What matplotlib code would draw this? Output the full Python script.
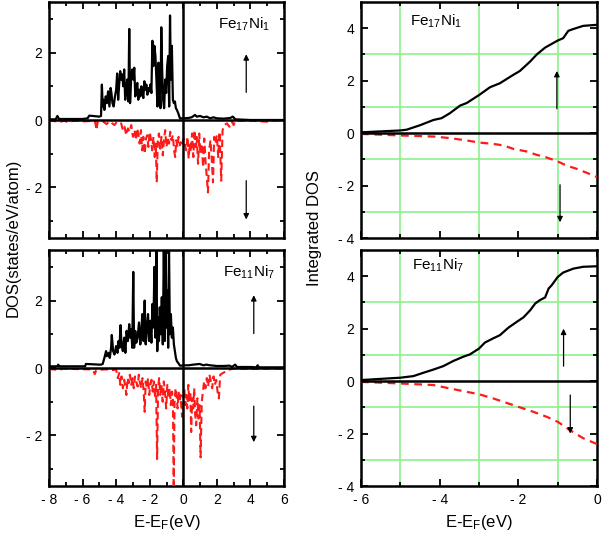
import matplotlib
matplotlib.use("Agg")
import matplotlib.pyplot as plt
from matplotlib.ticker import MultipleLocator, FixedLocator, FixedFormatter

plt.rcParams['font.family'] = ['Liberation Sans', 'DejaVu Sans']
plt.rcParams['mathtext.fontset'] = 'custom'
plt.rcParams['mathtext.rm'] = 'Liberation Sans'
plt.rcParams['mathtext.it'] = 'Liberation Sans:italic'

# ---------------- data: Fe17Ni1 DOS ----------------
e_up1 = [-8.0, -7.6, -7.5, -7.4, -6.0, -5.7, -5.6, -5.0, -4.9, -4.85, -4.8, -4.75, -4.7, -4.62,
         -4.55, -4.48, -4.4, -4.33, -4.28, -4.22, -4.15, -4.07, -4.0, -3.94, -3.88, -3.82, -3.76,
         -3.7, -3.64, -3.58, -3.52, -3.46, -3.4, -3.34, -3.27, -3.22, -3.17, -3.1, -3.04, -2.98,
         -2.92, -2.86, -2.8, -2.74, -2.68, -2.62, -2.56, -2.5, -2.44, -2.38, -2.32, -2.26, -2.2,
         -2.14, -2.08, -2.02, -1.96, -1.9, -1.84, -1.78, -1.72, -1.66, -1.6, -1.54, -1.48, -1.42,
         -1.36, -1.31, -1.26, -1.2, -1.14, -1.08, -1.02, -0.96, -0.9, -0.84, -0.79, -0.74, -0.68,
         -0.62, -0.56, -0.5, -0.44, -0.38, -0.3, -0.2, -0.1, 0.0, 0.3, 0.5, 0.7, 0.8, 1.0, 1.2,
         1.4, 1.6, 1.8, 2.0, 2.4, 2.8, 2.95, 3.1, 4.0, 6.0]
d_up1 = [0.02, 0.02, 0.12, 0.03, 0.03, 0.05, 0.13, 0.1, 0.12, 1.05, 0.4, 0.6, 0.3, 0.7,
         0.5, 0.85, 0.4, 0.95, 0.8, 0.5, 0.4, 0.7, 0.9, 1.38, 0.6, 1.05, 1.45,
         1.2, 1.35, 1.0, 1.5, 0.6, 0.9, 1.2, 0.55, 2.7, 0.5, 1.3, 1.5, 1.2,
         1.55, 0.7, 0.9, 1.1, 0.6, 0.9, 0.7, 1.0, 0.8, 0.65, 1.15, 0.9, 1.05,
         0.75, 0.95, 0.85, 1.05, 0.8, 2.35, 1.6, 2.2, 1.9, 1.2, 0.4, 1.7, 1.1,
         0.35, 2.75, 1.5, 0.6, 0.35, 1.2, 0.8, 1.6, 1.9, 0.4, 3.1, 1.2, 2.2,
         0.6, 0.5, 0.55, 0.35, 0.3, 0.2, 0.05, 0.05, 0.05, 0.06, 0.08, 0.15, 0.1, 0.12, 0.08,
         0.1, 0.05, 0.08, 0.05, 0.04, 0.06, 0.1, 0.02, 0.0, 0.0]

e_dn1 = [-8.0, -7.3, -7.1, -6.9, -6.5, -5.9, -5.5, -5.25, -5.17, -5.1, -4.8, -4.57, -4.4, -4.1,
         -3.95, -3.7, -3.6, -3.5, -3.4, -3.3, -3.2, -3.1, -3.0, -2.9, -2.82, -2.75, -2.68, -2.6,
         -2.52, -2.45, -2.38, -2.3, -2.22, -2.15, -2.08, -2.0, -1.92, -1.85, -1.78, -1.7, -1.64,
         -1.58, -1.52, -1.45, -1.38, -1.3, -1.22, -1.15, -1.08, -1.0, -0.92, -0.85, -0.78, -0.7,
         -0.62, -0.55, -0.48, -0.42, -0.35, -0.28, -0.2, -0.12, -0.05, 0.02, 0.1, 0.18, 0.25,
         0.32, 0.38, 0.45, 0.52, 0.6, 0.67, 0.74, 0.8, 0.88, 0.95, 1.02, 1.1, 1.18, 1.25, 1.32,
         1.4, 1.47, 1.54, 1.62, 1.7, 1.77, 1.84, 1.92, 2.0, 2.08, 2.16, 2.26, 2.34, 2.45, 2.6,
         2.75, 2.9, 3.0, 3.1, 4.0, 5.0, 5.2, 6.0]
d_dn1 = [-0.02, -0.05, -0.02, -0.06, -0.02, -0.04, -0.03, -0.05, -0.3, -0.05, -0.04, -0.12, -0.04, -0.15,
         -0.05, -0.1, -0.3, -0.2, -0.45, -0.25, -0.35, -0.15, -0.5, -0.3, -0.6, -0.25, -0.4, -0.7,
         -0.3, -0.9, -0.5, -1.0, -0.55, -0.45, -0.8, -0.35, -0.6, -0.9, -0.5, -1.1, -0.7,
         -1.85, -0.6, -0.4, -0.85, -0.5, -1.05, -0.6, -0.3, -0.8, -0.5, -0.7, -0.35, -0.6,
         -0.45, -0.9, -1.1, -0.6, -0.8, -0.5, -0.75, -0.6, -0.7, -0.55, -0.75, -0.9, -0.5,
         -1.15, -0.7, -0.95, -0.4, -1.1, -0.3, -0.8, -0.5, -1.3, -0.4, -1.0, -0.7, -1.4, -0.55, -1.2,
         -1.7, -2.15, -0.9, -0.6, -1.2, -1.85, -0.5, -0.7, -0.45, -1.1, -0.35, -1.8, -0.3, -0.15, -0.1,
         -0.2, -0.05, -0.15, -0.02, -0.02, -0.05, -0.02, -0.01]

# ---------------- data: Fe11Ni7 DOS ----------------
e_up2 = [-8.0, -7.5, -7.45, -7.4, -6.0, -5.85, -5.8, -5.0, -4.9, -4.8, -4.7, -4.6, -4.55, -4.45,
         -4.38, -4.3, -4.26, -4.18, -4.1, -4.0, -3.92, -3.86, -3.8, -3.74, -3.68, -3.6, -3.52,
         -3.45, -3.38, -3.3, -3.22, -3.16, -3.1, -3.04, -2.98, -2.93, -2.86, -2.8, -2.72, -2.64,
         -2.56, -2.5, -2.44, -2.37, -2.3, -2.24, -2.17, -2.1, -2.04, -1.97, -1.9, -1.84, -1.78,
         -1.72, -1.66, -1.6, -1.55, -1.5, -1.45, -1.4, -1.34, -1.28, -1.22, -1.16, -1.1, -1.05,
         -1.0, -0.95, -0.9, -0.85, -0.8, -0.74, -0.68, -0.62, -0.56, -0.5, -0.44, -0.38, -0.3,
         -0.2, -0.1, 0.0, 0.3, 0.6, 0.97, 1.2, 1.37, 1.6, 2.0, 2.4, 2.75, 2.9, 3.09, 3.2, 4.0,
         4.35, 4.43, 4.5, 6.0]
d_up2 = [0.05, 0.05, 0.1, 0.05, 0.05, 0.05, 0.12, 0.1, 0.1, 0.12, 0.3, 0.5, 0.35, 0.45,
         0.3, 0.6, 0.98, 0.5, 0.4, 0.65, 0.45, 0.8, 0.6, 1.27, 0.7, 0.5, 0.9,
         0.45, 1.1, 0.8, 1.3, 0.9, 1.15, 0.6, 2.85, 0.6, 1.1, 0.75, 0.9, 1.35,
         0.7, 1.1, 1.6, 0.8, 2.0, 0.7, 1.2, 1.6, 0.8, 1.4, 0.75, 1.9, 1.2,
         3.0, 0.9, 3.6, 0.5, 1.5, 0.8, 1.8, 1.0, 2.1, 0.7, 3.6, 0.8, 3.6,
         1.2, 2.3, 0.6, 3.6, 1.0, 1.6, 0.9, 1.2, 0.7, 0.5, 0.3, 0.2, 0.15,
         0.07, 0.07, 0.08, 0.08, 0.1, 0.12, 0.08, 0.1, 0.08, 0.06, 0.06, 0.07, 0.03, 0.1, 0.03, 0.03,
         0.02, 0.08, 0.02, 0.02]

e_dn2 = [-8.0, -7.35, -7.2, -6.5, -5.6, -5.4, -5.27, -5.2, -5.0, -4.6, -4.2, -4.0, -3.9, -3.82,
         -3.75, -3.68, -3.6, -3.52, -3.45, -3.39, -3.32, -3.25, -3.18, -3.1, -3.02, -2.95, -2.88,
         -2.8, -2.72, -2.65, -2.58, -2.5, -2.43, -2.36, -2.3, -2.24, -2.17, -2.1, -2.03, -1.96,
         -1.89, -1.82, -1.75, -1.68, -1.62, -1.56, -1.5, -1.44, -1.37, -1.3, -1.23, -1.16, -1.09,
         -1.02, -0.95, -0.88, -0.81, -0.74, -0.67, -0.62, -0.57, -0.52, -0.46, -0.4, -0.34, -0.28,
         -0.22, -0.16, -0.1, -0.06, 0.0, 0.06, 0.12, 0.18, 0.24, 0.3, 0.36, 0.42, 0.47, 0.53,
         0.59, 0.65, 0.71, 0.77, 0.84, 0.91, 0.97, 1.03, 1.1, 1.17, 1.24, 1.32, 1.4, 1.48, 1.56,
         1.64, 1.72, 1.8, 1.88, 1.96, 2.04, 2.12, 2.2, 2.35, 2.55, 2.7, 3.0, 4.0, 5.0, 6.0]
d_dn2 = [-0.03, -0.06, -0.02, -0.03, -0.04, -0.05, -0.18, -0.08, -0.05, -0.04, -0.06, -0.05, -0.3, -0.15,
         -0.5, -0.25, -0.6, -0.35, -0.55, -0.8, -0.3, -0.45, -0.2, -0.5, -0.3, -0.6, -0.25,
         -0.4, -0.55, -0.2, -0.45, -0.6, -0.3, -0.7, -1.3, -0.4, -0.6, -0.3, -0.8, -0.5,
         -0.35, -0.7, -0.4, -0.9, -0.5, -2.7, -0.6, -0.3, -0.8, -0.5, -1.0, -0.4, -0.7,
         -1.2, -0.5, -0.9, -0.6, -1.1, -0.7, -0.9, -3.6, -1.0, -0.6, -0.8, -1.2, -0.7,
         -1.0, -0.8, -1.3, -1.45, -0.9, -0.6, -1.1, -0.8, -1.2, -0.5, -1.0, -0.7, -1.9, -0.9,
         -1.2, -0.6, -1.4, -1.7, -0.9, -1.5, -1.1, -2.65, -1.0, -0.7, -0.4, -0.6, -0.3, -0.55, -0.2,
         -0.4, -0.6, -0.25, -0.5, -0.35, -0.7, -0.9, -0.2, -0.15, -0.1, -0.05, -0.02, -0.03, -0.02, -0.02]

# ---------------- data: integrated DOS ----------------
ie1 = [-6.0, -5.01, -4.84, -4.5, -4.16, -3.95, -3.74, -3.48, -3.31, -2.99, -2.72, -2.47, -2.13,
       -1.96, -1.70, -1.53, -1.32, -1.0, -0.86, -0.73, -0.6, -0.35, 0.0]
iup1 = [0.03, 0.1, 0.13, 0.3, 0.5, 0.57, 0.76, 1.05, 1.15, 1.46, 1.75, 1.9, 2.22,
        2.37, 2.73, 3.0, 3.26, 3.53, 3.62, 3.9, 3.97, 4.09, 4.13]
ie1d = [-6.0, -5.0, -4.16, -3.74, -3.31, -3.0, -2.64, -2.38, -2.13, -1.79, -1.53, -1.28, -1.0,
        -0.77, -0.52, -0.25, 0.0]
idn1 = [-0.03, -0.09, -0.13, -0.19, -0.28, -0.36, -0.41, -0.47, -0.6, -0.7, -0.83, -0.93, -1.08,
        -1.24, -1.36, -1.52, -1.68]

ie2 = [-6.0, -5.0, -4.67, -4.41, -4.16, -3.91, -3.65, -3.4, -3.23, -3.0, -2.85, -2.64, -2.47,
       -2.25, -2.04, -1.87, -1.70, -1.57, -1.45, -1.32, -1.23, -1.15, -1.0, -0.86, -0.6, -0.35, 0.0]
iup2 = [0.04, 0.13, 0.19, 0.32, 0.44, 0.57, 0.77, 0.93, 1.02, 1.24, 1.47, 1.63, 1.75,
        2.04, 2.26, 2.43, 2.7, 2.96, 3.09, 3.19, 3.53, 3.66, 3.97, 4.14, 4.29, 4.36, 4.38]
ie2d = [-6.0, -5.0, -4.16, -3.74, -3.31, -3.0, -2.64, -2.3, -1.96, -1.62, -1.28, -1.0, -0.69,
        -0.35, 0.0]
idn2 = [-0.03, -0.09, -0.15, -0.28, -0.41, -0.5, -0.66, -0.83, -1.0, -1.17, -1.36, -1.55, -1.87,
        -2.18, -2.4]

labels_panel = [r'Fe$_{\mathregular{17}}$Ni$_{\mathregular{1}}$', r'Fe$_{\mathregular{11}}$Ni$_{\mathregular{7}}$']

dos_xticks = [-8, -6, -4, -2, 0, 2, 4, 6]
dos_xticklabels = ['- 8', '- 6', '- 4', '- 2', '0', '2', '4', '6']
dos_yticks = [-2, 0, 2]
dos_yticklabels = ['- 2', '0', '2']
int_xticks = [-6, -4, -2, 0]
int_xticklabels = ['- 6', '- 4', '- 2', '0']
int_yticks = [-4, -2, 0, 2, 4]
int_yticklabels = ['- 4', '- 2', '0', '2', '4']

# ---------------- figure ----------------
W, H = 602, 535
fig = plt.figure(figsize=(W / 100, H / 100), dpi=100)

def fax(x0, y0, x1, y1):
    return fig.add_axes([x0 / W, 1 - y1 / H, (x1 - x0) / W, (y1 - y0) / H])

axL1 = fax(49, 2, 284, 238)
axL2 = fax(49, 250, 284, 486)
axR1 = fax(361, 2, 597, 238)
axR2 = fax(361, 250, 597, 486)

red = '#ff1a1a'
tick_fs = 10

def style(ax, showx):
    for s in ax.spines.values():
        s.set_linewidth(1.8)
    ax.tick_params(which='both', direction='in', top=True, right=True, width=1.3,
                   labelsize=tick_fs, pad=5)
    ax.tick_params(which='major', length=5)
    ax.tick_params(which='minor', length=3)
    if not showx:
        ax.tick_params(axis='x', which='both', labelbottom=False)

# DOS panels
for ax, (e_u, d_u, e_d, d_d), lab, showx in [
        (axL1, (e_up1, d_up1, e_dn1, d_dn1), labels_panel[0], False),
        (axL2, (e_up2, d_up2, e_dn2, d_dn2), labels_panel[1], True)]:
    ax.plot(e_d, d_d, color=red, lw=1.5, dashes=(3.5, 2), zorder=3)
    ax.plot(e_u, d_u, color='black', lw=1.6, zorder=4)
    ax.axhline(0, color='black', lw=1.8, zorder=5)
    ax.axvline(0, color='black', lw=1.8, zorder=5)
    ax.set_xlim(-8, 6)
    ax.set_ylim(-3.5, 3.5)
    ax.xaxis.set_major_locator(FixedLocator(dos_xticks))
    ax.xaxis.set_major_formatter(FixedFormatter(dos_xticklabels))
    ax.xaxis.set_minor_locator(MultipleLocator(1))
    ax.yaxis.set_major_locator(FixedLocator(dos_yticks))
    ax.yaxis.set_major_formatter(FixedFormatter(dos_yticklabels))
    ax.yaxis.set_minor_locator(MultipleLocator(1))
    style(ax, showx)

axL1.text(2.05, 2.85, labels_panel[0], fontsize=11, ha='left', va='center')
axL2.text(2.35, 2.85, labels_panel[1], fontsize=11, ha='left', va='center')

arrow = dict(arrowstyle='-|>', lw=0.9, color='black', mutation_scale=8, shrinkA=0, shrinkB=0)
axL1.annotate('', xy=(3.75, 1.95), xytext=(3.75, 0.82), arrowprops=arrow)
axL1.annotate('', xy=(3.75, -2.95), xytext=(3.75, -1.8), arrowprops=arrow)
axL2.annotate('', xy=(4.2, 2.16), xytext=(4.2, 1.02), arrowprops=arrow)
axL2.annotate('', xy=(4.2, -2.2), xytext=(4.2, -1.13), arrowprops=arrow)

# Integrated DOS panels
green = '#8cf08c'
for ax, (xu, yu, xd, yd), showx in [
        (axR1, (ie1, iup1, ie1d, idn1), False),
        (axR2, (ie2, iup2, ie2d, idn2), True)]:
    ax.set_xlim(-6, 0)
    ax.set_ylim(-4, 5)
    ax.xaxis.set_major_locator(FixedLocator(int_xticks))
    ax.xaxis.set_major_formatter(FixedFormatter(int_xticklabels))
    ax.xaxis.set_minor_locator(FixedLocator([-5, -3, -1]))
    ax.yaxis.set_major_locator(FixedLocator(int_yticks))
    ax.yaxis.set_major_formatter(FixedFormatter(int_yticklabels))
    ax.yaxis.set_minor_locator(FixedLocator([-3, -1, 1, 3]))
    ax.grid(which='minor', color=green, lw=1.2, zorder=0)
    ax.grid(which='major', visible=False)
    ax.set_axisbelow(True)
    ax.plot(xd, yd, color=red, lw=1.6, dashes=(3.5, 2.5), zorder=3)
    ax.plot(xu, yu, color='black', lw=1.6, zorder=4)
    ax.axhline(0, color='black', lw=1.8, zorder=5)
    style(ax, showx)

axR1.text(-4.75, 4.25, labels_panel[0], fontsize=11, ha='left', va='center')
axR2.text(-4.71, 4.42, labels_panel[1], fontsize=11, ha='left', va='center')
axR1.annotate('', xy=(-1.02, 2.37), xytext=(-1.02, 0.93), arrowprops=arrow)
axR1.annotate('', xy=(-0.94, -3.4), xytext=(-0.94, -1.97), arrowprops=arrow)
axR2.annotate('', xy=(-0.85, 2.0), xytext=(-0.85, 0.57), arrowprops=arrow)
axR2.annotate('', xy=(-0.68, -2.0), xytext=(-0.68, -0.53), arrowprops=arrow)

axis_fs = 12
axL2.set_xlabel(r'E-E$_{\mathregular{F}}$(eV)', fontsize=axis_fs, labelpad=4)
axR2.set_xlabel(r'E-E$_{\mathregular{F}}$(eV)', fontsize=axis_fs, labelpad=4)
fig.text(13 / W, 1 - 238 / H, 'DOS(states/eV/atom)', rotation=90, fontsize=axis_fs,
         ha='center', va='center')
fig.text(315 / W, 1 - 228 / H, 'Integrated DOS', rotation=90, fontsize=axis_fs,
         ha='center', va='center')

fig.savefig('out.png', dpi=100)
